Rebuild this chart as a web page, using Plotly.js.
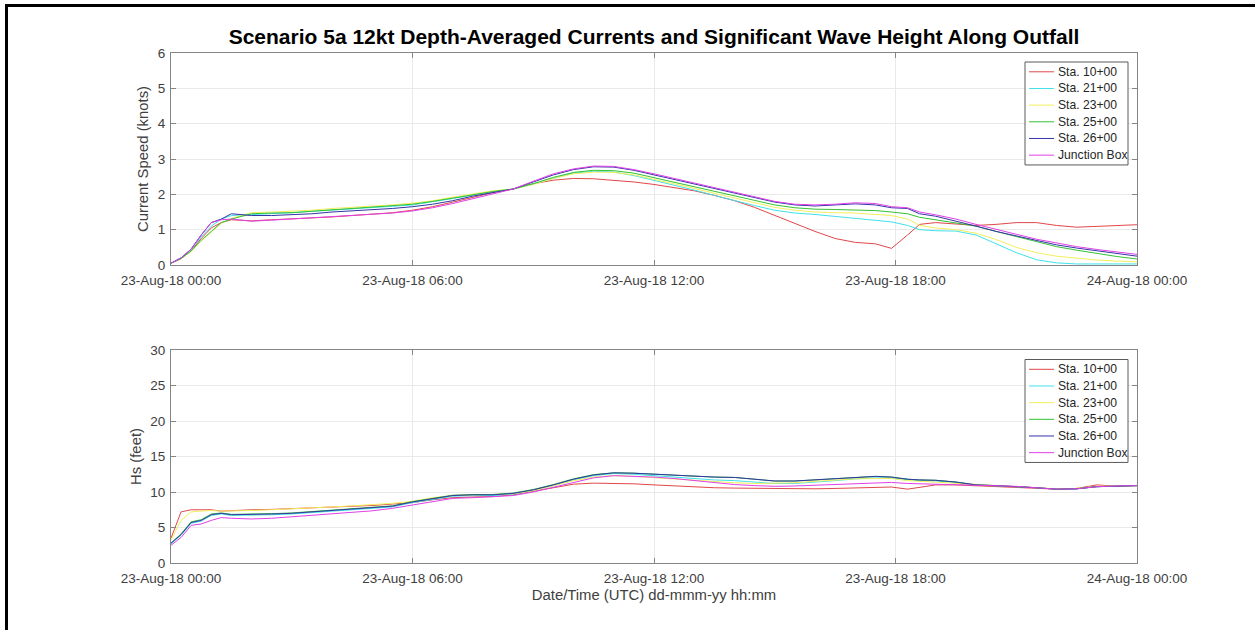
<!DOCTYPE html>
<html>
<head>
<meta charset="utf-8">
<script src="https://cdn.plot.ly/plotly-3.0.1.min.js"></script>
<style>
  html, body { margin: 0; padding: 0; background: #fff; }
  #chart { position: absolute; left: 0; top: 0; width: 1255px; height: 630px; }
  #frame { position: absolute; left: 5px; top: 4px; width: 1300px; height: 700px;
           border-left: 3px solid #000; border-top: 3px solid #000; pointer-events: none; }
</style>
</head>
<body>
<div id="chart"></div>
<div id="frame"></div>
<script>
// Hours after 23-Aug-18 00:00 (UTC)
const hours = [0,0.25,0.5,0.75,1,1.25,1.5,2,2.5,3,3.5,4,4.5,5,5.5,6,6.5,7,7.5,8,8.5,9,9.5,10,10.5,11,11.5,12,12.5,13,13.5,14,14.5,15,15.5,16,16.5,17,17.5,17.9,18.3,18.6,19,19.5,20,20.5,21,21.5,22,22.5,23,23.5,24];

const stationNames = ["Sta. 10+00","Sta. 21+00","Sta. 23+00","Sta. 25+00","Sta. 26+00","Junction Box"];

// Depth-averaged current speed (knots)
const curSta10 = [0.05,0.18,0.4,0.75,1.05,1.2,1.28,1.25,1.28,1.3,1.33,1.36,1.4,1.44,1.48,1.55,1.65,1.78,1.92,2.05,2.15,2.3,2.4,2.45,2.44,2.4,2.35,2.28,2.2,2.1,1.97,1.82,1.63,1.4,1.17,0.95,0.75,0.64,0.6,0.47,0.85,1.15,1.2,1.17,1.12,1.15,1.2,1.2,1.12,1.07,1.1,1.13,1.14];
const curSta21 = [0.05,0.2,0.43,0.8,1.1,1.3,1.4,1.42,1.45,1.48,1.52,1.55,1.58,1.62,1.66,1.7,1.78,1.88,1.98,2.08,2.15,2.3,2.47,2.6,2.65,2.63,2.53,2.4,2.27,2.12,1.97,1.82,1.68,1.55,1.47,1.43,1.38,1.33,1.28,1.22,1.12,1.0,0.97,0.96,0.85,0.6,0.35,0.15,0.06,0.03,0.03,0.03,0.03];
const curSta23 = [0.05,0.18,0.38,0.68,0.93,1.18,1.32,1.48,1.5,1.52,1.55,1.6,1.63,1.66,1.7,1.75,1.82,1.92,2.02,2.1,2.15,2.28,2.45,2.58,2.63,2.62,2.55,2.43,2.3,2.17,2.03,1.9,1.77,1.63,1.55,1.5,1.48,1.47,1.43,1.4,1.3,1.12,1.05,1.0,0.9,0.72,0.5,0.35,0.25,0.19,0.14,0.11,0.09];
const curSta25 = [0.05,0.18,0.4,0.7,0.95,1.2,1.3,1.45,1.47,1.48,1.52,1.56,1.6,1.63,1.67,1.72,1.8,1.9,2.0,2.08,2.15,2.3,2.48,2.62,2.68,2.67,2.6,2.47,2.35,2.22,2.08,1.95,1.83,1.7,1.62,1.58,1.57,1.56,1.54,1.5,1.45,1.35,1.28,1.2,1.1,0.95,0.8,0.65,0.52,0.42,0.32,0.24,0.17];
const curSta26 = [0.05,0.2,0.45,0.85,1.2,1.3,1.45,1.4,1.4,1.42,1.45,1.5,1.53,1.56,1.6,1.65,1.72,1.82,1.95,2.05,2.15,2.35,2.55,2.7,2.78,2.77,2.68,2.55,2.42,2.28,2.15,2.02,1.9,1.78,1.7,1.67,1.7,1.73,1.7,1.62,1.6,1.45,1.38,1.25,1.1,0.95,0.82,0.68,0.57,0.48,0.4,0.32,0.25];
const curJBox  = [0.05,0.2,0.45,0.85,1.2,1.28,1.3,1.24,1.27,1.3,1.33,1.36,1.4,1.43,1.47,1.53,1.62,1.74,1.88,2.02,2.15,2.37,2.58,2.72,2.8,2.79,2.7,2.58,2.45,2.3,2.17,2.04,1.92,1.8,1.72,1.7,1.72,1.76,1.74,1.65,1.62,1.5,1.42,1.3,1.15,1.0,0.87,0.73,0.62,0.52,0.44,0.36,0.3];

// Significant wave height (feet)
const hsSta10 = [3.5,7.2,7.5,7.5,7.5,7.3,7.4,7.5,7.55,7.65,7.75,7.9,8.0,8.1,8.3,8.5,8.9,9.2,9.3,9.35,9.6,10.1,10.7,11.1,11.25,11.25,11.15,11.0,10.85,10.7,10.6,10.55,10.5,10.45,10.45,10.45,10.5,10.55,10.6,10.7,10.4,10.7,11.0,11.0,10.9,10.8,10.7,10.5,10.4,10.5,11.0,10.8,10.9];
const hsSta21 = [2.7,3.9,5.6,5.9,6.7,6.9,6.7,6.7,6.8,6.9,7.1,7.3,7.45,7.6,7.9,8.5,9.0,9.4,9.5,9.5,9.7,10.2,10.9,11.7,12.3,12.6,12.5,12.3,12.0,11.8,11.7,11.6,11.4,11.2,11.2,11.35,11.6,11.85,12.0,11.95,11.7,11.6,11.55,11.35,11.0,10.9,10.8,10.6,10.4,10.45,10.75,10.85,10.9];
const hsSta23 = [3.2,6.0,7.2,7.3,7.4,7.3,7.3,7.4,7.5,7.6,7.75,7.9,8.05,8.2,8.4,8.7,9.2,9.5,9.55,9.6,9.75,10.2,10.9,11.6,12.1,12.3,12.2,12.0,11.8,11.6,11.45,11.3,11.2,11.2,11.3,11.5,11.7,11.85,11.9,11.9,11.6,11.5,11.45,11.3,11.05,10.95,10.8,10.6,10.45,10.5,10.8,10.85,10.9];
const hsSta25 = [2.8,4.1,5.8,6.1,6.9,7.05,6.85,6.85,6.95,7.05,7.25,7.45,7.6,7.75,8.05,8.65,9.15,9.55,9.65,9.65,9.85,10.35,11.05,11.85,12.45,12.7,12.65,12.5,12.3,12.15,12.1,12.05,11.8,11.55,11.55,11.7,11.9,12.1,12.2,12.1,11.8,11.7,11.65,11.4,11.0,10.9,10.8,10.6,10.4,10.45,10.75,10.85,10.9];
const hsSta26 = [2.8,4.0,5.7,6.0,6.8,7.0,6.8,6.8,6.9,7.0,7.2,7.4,7.55,7.7,8.0,8.6,9.1,9.5,9.6,9.6,9.8,10.3,11.0,11.8,12.4,12.7,12.65,12.5,12.3,12.15,12.1,12.05,11.8,11.55,11.55,11.7,11.9,12.1,12.2,12.1,11.8,11.7,11.65,11.4,11.0,10.9,10.8,10.6,10.4,10.45,10.75,10.85,10.9];
const hsJBox  = [2.5,3.6,5.3,5.5,6.0,6.4,6.3,6.2,6.3,6.5,6.7,6.9,7.1,7.35,7.7,8.2,8.7,9.1,9.2,9.3,9.5,10.0,10.7,11.4,12.0,12.3,12.25,12.1,11.9,11.6,11.3,11.05,10.9,10.8,10.85,10.95,11.1,11.2,11.3,11.35,11.2,11.15,11.1,11.05,11.0,10.9,10.8,10.6,10.4,10.45,10.75,10.85,10.9];

const xTickHours = [0,6,12,18,24];
const xTickText = ["23-Aug-18 00:00","23-Aug-18 06:00","23-Aug-18 12:00","23-Aug-18 18:00","24-Aug-18 00:00"];
const curTicks = [0,1,2,3,4,5,6];
const hsTicks = [0,5,10,15,20,25,30];

const colors = ["#e0484a","#40e2ea","#f2ef5c","#33c233","#3434a8","#e040e8"];

const FONT = "Liberation Sans, Arial, Helvetica, sans-serif";
const W = 1255, H = 630;
const M = {l: 171, r: 118, t: 53, b: 67};
const PW = W - M.l - M.r, PH = H - M.t - M.b;
const px2x = p => (p - M.l) / PW;
const py2y = p => (H - M.b - p) / PH;

const base = Date.UTC(2018,7,23,0,0,0);
function toDate(h) {
  const d = new Date(base + h*3600000);
  return d.toISOString().replace("T"," ").slice(0,19);
}
const xDates = hours.map(toDate);
const tickDates = xTickHours.map(toDate);

const curSeries = [curSta10,curSta21,curSta23,curSta25,curSta26,curJBox];
const hsSeries = [hsSta10,hsSta21,hsSta23,hsSta25,hsSta26,hsJBox];

const traces = [];
curSeries.forEach((s,i) => traces.push({
  x: xDates, y: s, type: "scatter", mode: "lines", name: stationNames[i],
  line: {color: colors[i], width: 1}, xaxis: "x", yaxis: "y", showlegend: false
}));
hsSeries.forEach((s,i) => traces.push({
  x: xDates, y: s, type: "scatter", mode: "lines", name: stationNames[i],
  line: {color: colors[i], width: 1}, xaxis: "x2", yaxis: "y2", showlegend: false
}));

// MATLAB-style legend boxes (one per panel)
const shapes = [], annotations = [];
function addLegend(boxTop) {
  const boxL = 1025, boxR = 1128, rowH = 16.67, firstOff = 9.8;
  const boxB = boxTop + firstOff*2 + rowH*(stationNames.length-1);
  shapes.push({type: "rect", xref: "paper", yref: "paper", layer: "above",
    x0: px2x(boxL), x1: px2x(boxR), y0: py2y(boxB), y1: py2y(boxTop),
    fillcolor: "#ffffff", line: {color: "#5a5a5a", width: 1}});
  stationNames.forEach((nm, i) => {
    const yc = boxTop + firstOff + i*rowH;
    shapes.push({type: "line", xref: "paper", yref: "paper", layer: "above",
      x0: px2x(1029), x1: px2x(1054), y0: py2y(yc), y1: py2y(yc),
      line: {color: colors[i], width: 1}});
    annotations.push({xref: "paper", yref: "paper", x: px2x(1055.5), y: py2y(yc),
      xanchor: "left", yanchor: "middle", showarrow: false, text: nm,
      font: {family: FONT, size: 12.15, color: "#262626"}});
  });
}
addLegend(62);
addLegend(359.5);

const axisCommon = {
  showline: true, linecolor: "#858585", linewidth: 1, mirror: "ticks",
  ticks: "inside", ticklen: 5, tickcolor: "#858585",
  showgrid: true, gridcolor: "#e9e9e9", gridwidth: 1, zeroline: false,
  tickfont: {family: FONT, size: 13.5, color: "#404040"}
};
const xCommon = Object.assign({}, axisCommon, {
  type: "date", range: [tickDates[0], tickDates[4]],
  tickmode: "array", tickvals: tickDates, ticktext: xTickText, ticklabelstandoff: 3
});
const labelFont = {family: FONT, size: 14.85, color: "#404040"};

const layout = {
  width: W, height: H,
  margin: M,
  paper_bgcolor: "#ffffff", plot_bgcolor: "#ffffff",
  font: {family: FONT, size: 13.5, color: "#404040"},
  showlegend: false,
  title: {
    text: "Scenario 5a 12kt Depth-Averaged Currents and Significant Wave Height Along Outfall",
    font: {family: FONT, size: 21, color: "#000000", weight: "bold"},
    x: 654/W, xanchor: "center", xref: "container",
    y: 1 - 37/H, yanchor: "middle", yref: "container"
  },
  xaxis: Object.assign({}, xCommon, {domain: [0,1], anchor: "y"}),
  yaxis: Object.assign({}, axisCommon, {domain: [py2y(265), 1], anchor: "x",
    range: [0,6], tickmode: "array", tickvals: curTicks, ticklabelstandoff: 2,
    title: {text: "Current Speed (knots)", font: labelFont, standoff: 5}}),
  xaxis2: Object.assign({}, xCommon, {domain: [0,1], anchor: "y2",
    title: {text: "Date/Time (UTC) dd-mmm-yy hh:mm", font: labelFont, standoff: 4}}),
  yaxis2: Object.assign({}, axisCommon, {domain: [0, py2y(350)], anchor: "x2",
    range: [0,30], tickmode: "array", tickvals: hsTicks, ticklabelstandoff: 2,
    title: {text: "Hs (feet)", font: labelFont, standoff: 5}}),
  shapes: shapes,
  annotations: annotations
};

Plotly.newPlot("chart", traces, layout, {displayModeBar: false, staticPlot: true});
</script>
</body>
</html>
